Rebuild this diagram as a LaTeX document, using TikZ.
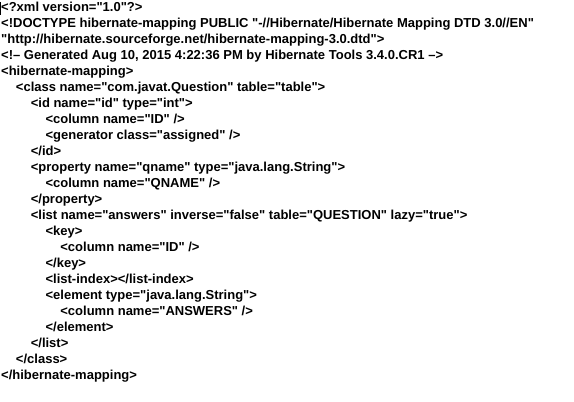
\documentclass[tikz,border=0pt]{standalone}
\usepackage{fontspec}
\newfontfamily\xmlfont{Liberation Sans}

\tikzset{xmlline/.style={anchor=base west, inner sep=0pt, font=\xmlfont\bfseries\fontsize{13}{16}\selectfont}}

\begin{document}
\begin{tikzpicture}[x=1pt,y=-1pt]
\fill[white] (0,0) rectangle (574,402);
\useasboundingbox (0,0) rectangle (574,402);

% text cursor
\draw[line width=1pt] (0.5,2) -- (0.5,15);

\foreach \lvl/\txt [count=\i] in {
  0/{<?xml version="1.0"?>},
  0/{<!DOCTYPE hibernate-mapping PUBLIC "-//Hibernate/Hibernate Mapping DTD 3.0//EN"},
  0/{"http://hibernate.sourceforge.net/hibernate-mapping-3.0.dtd">},
  0/{<!– Generated Aug 10, 2015 4:22:36 PM by Hibernate Tools 3.4.0.CR1 –>},
  0/{<hibernate-mapping>},
  1/{<class name="com.javat.Question" table="table">},
  2/{<id name="id" type="int">},
  3/{<column name="ID" />},
  3/{<generator class="assigned" />},
  2/{</id>},
  2/{<property name="qname" type="java.lang.String">},
  3/{<column name="QNAME" />},
  2/{</property>},
  2/{<list name="answers" inverse="false" table="QUESTION" lazy="true">},
  3/{<key>},
  4/{<column name="ID" />},
  3/{</key>},
  3/{<list-index></list-index>},
  3/{<element type="java.lang.String">},
  4/{<column name="ANSWERS" />},
  3/{</element>},
  2/{</list>},
  1/{</class>},
  0/{</hibernate-mapping>}
} \node[xmlline] (line\i) at (1+14.8*\lvl, 11+16*\i-16) {\txt};
\end{tikzpicture}
\end{document}
